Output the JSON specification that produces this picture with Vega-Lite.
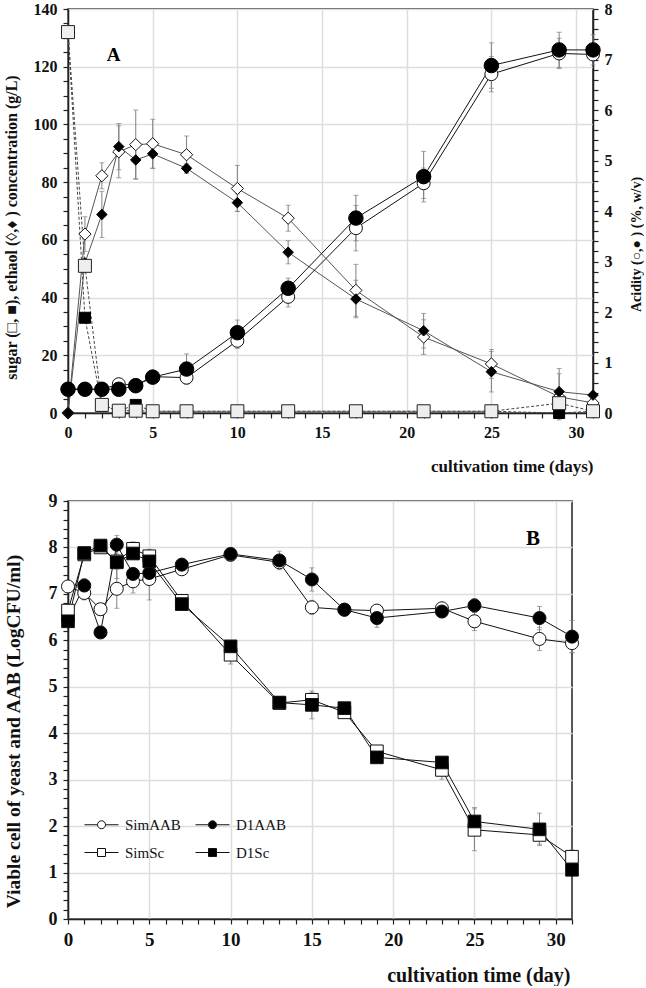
{
  "$schema": "https://vega.github.io/schema/vega-lite/v6.json",
  "padding": {"left": 2, "top": 0, "right": 0, "bottom": 0},
  "spacing": 16,
  "config": {
    "view": {"stroke": "#222", "strokeWidth": 1.5},
    "axis": {
      "labelFont": "Liberation Serif", "labelFontWeight": "bold", "labelFontSize": 16, "labelColor": "#111",
      "titleFont": "Liberation Serif", "titleFontWeight": "bold", "titleFontSize": 16, "titleColor": "#111",
      "domainColor": "#222", "domainWidth": 1.5, "tickColor": "#222", "tickWidth": 1.2, "tickSize": 5,
      "gridColor": "#dddddd", "gridWidth": 1.5, "labelOverlap": false, "labelFlush": false, "labelPadding": 6
    },
    "text": {"font": "Liberation Serif"}
  },
  "datasets": {
    "A": [
      {"t": 0, "s": "sugSim", "v": 132, "e": 0}, {"t": 1, "s": "sugSim", "v": 51, "e": 0}, {"t": 2, "s": "sugSim", "v": 2.8, "e": 0}, {"t": 3, "s": "sugSim", "v": 0.8, "e": 0}, {"t": 4, "s": "sugSim", "v": 0.8, "e": 0}, {"t": 5, "s": "sugSim", "v": 0.6, "e": 0}, {"t": 7, "s": "sugSim", "v": 0.6, "e": 0}, {"t": 10, "s": "sugSim", "v": 0.6, "e": 0}, {"t": 13, "s": "sugSim", "v": 0.6, "e": 0}, {"t": 17, "s": "sugSim", "v": 0.6, "e": 0}, {"t": 21, "s": "sugSim", "v": 0.6, "e": 0}, {"t": 25, "s": "sugSim", "v": 0.6, "e": 0}, {"t": 29, "s": "sugSim", "v": 3.4, "e": 0}, {"t": 31, "s": "sugSim", "v": 0.6, "e": 0},
      {"t": 0, "s": "sugD1", "v": 132, "e": 0}, {"t": 1, "s": "sugD1", "v": 33, "e": 0}, {"t": 2, "s": "sugD1", "v": 2.5, "e": 0}, {"t": 3, "s": "sugD1", "v": 0.8, "e": 0}, {"t": 4, "s": "sugD1", "v": 2.8, "e": 0}, {"t": 5, "s": "sugD1", "v": 0.6, "e": 0}, {"t": 7, "s": "sugD1", "v": 0.6, "e": 0}, {"t": 10, "s": "sugD1", "v": 0.6, "e": 0}, {"t": 13, "s": "sugD1", "v": 0.6, "e": 0}, {"t": 17, "s": "sugD1", "v": 0.6, "e": 0}, {"t": 21, "s": "sugD1", "v": 0.6, "e": 0}, {"t": 25, "s": "sugD1", "v": 0.6, "e": 0}, {"t": 29, "s": "sugD1", "v": 0, "e": 0}, {"t": 31, "s": "sugD1", "v": 0.6, "e": 0},
      {"t": 0, "s": "ethSim", "v": 0, "e": 0}, {"t": 1, "s": "ethSim", "v": 62, "e": 6}, {"t": 2, "s": "ethSim", "v": 82.2, "e": 4.5}, {"t": 3, "s": "ethSim", "v": 90.5, "e": 9}, {"t": 4, "s": "ethSim", "v": 93, "e": 12}, {"t": 5, "s": "ethSim", "v": 93.3, "e": 8.5}, {"t": 7, "s": "ethSim", "v": 89.5, "e": 6.5}, {"t": 10, "s": "ethSim", "v": 77.8, "e": 8}, {"t": 13, "s": "ethSim", "v": 67.5, "e": 4.5}, {"t": 17, "s": "ethSim", "v": 42.5, "e": 9}, {"t": 21, "s": "ethSim", "v": 26.3, "e": 6}, {"t": 25, "s": "ethSim", "v": 17, "e": 5}, {"t": 29, "s": "ethSim", "v": 5.6, "e": 8}, {"t": 31, "s": "ethSim", "v": 3.5, "e": 2},
      {"t": 0, "s": "ethD1", "v": 0, "e": 0}, {"t": 1, "s": "ethD1", "v": 52, "e": 0}, {"t": 2, "s": "ethD1", "v": 68.8, "e": 8}, {"t": 3, "s": "ethD1", "v": 92.3, "e": 8}, {"t": 4, "s": "ethD1", "v": 87.7, "e": 6.5}, {"t": 5, "s": "ethD1", "v": 89.8, "e": 5}, {"t": 7, "s": "ethD1", "v": 84.8, "e": 1.5}, {"t": 10, "s": "ethD1", "v": 72.9, "e": 3}, {"t": 13, "s": "ethD1", "v": 55.7, "e": 4}, {"t": 17, "s": "ethD1", "v": 39.5, "e": 6.5}, {"t": 21, "s": "ethD1", "v": 28.5, "e": 6}, {"t": 25, "s": "ethD1", "v": 14.3, "e": 7}, {"t": 29, "s": "ethD1", "v": 7.4, "e": 8}, {"t": 31, "s": "ethD1", "v": 6.2, "e": 1},
      {"t": 0, "s": "acSim", "v": 0.47, "e": 0}, {"t": 1, "s": "acSim", "v": 0.47, "e": 0}, {"t": 2, "s": "acSim", "v": 0.47, "e": 0}, {"t": 3, "s": "acSim", "v": 0.57, "e": 0.1}, {"t": 4, "s": "acSim", "v": 0.55, "e": 0}, {"t": 5, "s": "acSim", "v": 0.72, "e": 0}, {"t": 7, "s": "acSim", "v": 0.7, "e": 0.05}, {"t": 10, "s": "acSim", "v": 1.43, "e": 0.15}, {"t": 13, "s": "acSim", "v": 2.3, "e": 0.2}, {"t": 17, "s": "acSim", "v": 3.66, "e": 0.45}, {"t": 21, "s": "acSim", "v": 4.55, "e": 0.3}, {"t": 25, "s": "acSim", "v": 6.71, "e": 0.35}, {"t": 29, "s": "acSim", "v": 7.12, "e": 0.3}, {"t": 31, "s": "acSim", "v": 7.1, "e": 0.1},
      {"t": 0, "s": "acD1", "v": 0.47, "e": 0}, {"t": 1, "s": "acD1", "v": 0.47, "e": 0}, {"t": 2, "s": "acD1", "v": 0.47, "e": 0}, {"t": 3, "s": "acD1", "v": 0.47, "e": 0}, {"t": 4, "s": "acD1", "v": 0.54, "e": 0}, {"t": 5, "s": "acD1", "v": 0.71, "e": 0}, {"t": 7, "s": "acD1", "v": 0.87, "e": 0.3}, {"t": 10, "s": "acD1", "v": 1.59, "e": 0.25}, {"t": 13, "s": "acD1", "v": 2.47, "e": 0.2}, {"t": 17, "s": "acD1", "v": 3.86, "e": 0.45}, {"t": 21, "s": "acD1", "v": 4.68, "e": 0.5}, {"t": 25, "s": "acD1", "v": 6.88, "e": 0.45}, {"t": 29, "s": "acD1", "v": 7.19, "e": 0.35}, {"t": 31, "s": "acD1", "v": 7.19, "e": 0.3}
    ],
    "B": [
      {"t": 0, "s": "SimAAB", "v": 7.16, "e": 0}, {"t": 1, "s": "SimAAB", "v": 7.02, "e": 0.15}, {"t": 2, "s": "SimAAB", "v": 6.67, "e": 0.12}, {"t": 3, "s": "SimAAB", "v": 7.11, "e": 0.42}, {"t": 4, "s": "SimAAB", "v": 7.27, "e": 0.25}, {"t": 5, "s": "SimAAB", "v": 7.32, "e": 0.45}, {"t": 7, "s": "SimAAB", "v": 7.53, "e": 0.05}, {"t": 10, "s": "SimAAB", "v": 7.84, "e": 0.05}, {"t": 13, "s": "SimAAB", "v": 7.68, "e": 0.1}, {"t": 15, "s": "SimAAB", "v": 6.71, "e": 0.15}, {"t": 17, "s": "SimAAB", "v": 6.66, "e": 0.1}, {"t": 19, "s": "SimAAB", "v": 6.64, "e": 0.1}, {"t": 23, "s": "SimAAB", "v": 6.69, "e": 0.1}, {"t": 25, "s": "SimAAB", "v": 6.41, "e": 0.2}, {"t": 29, "s": "SimAAB", "v": 6.03, "e": 0.25}, {"t": 31, "s": "SimAAB", "v": 5.94, "e": 0.2},
      {"t": 0, "s": "D1AAB", "v": 6.45, "e": 0}, {"t": 1, "s": "D1AAB", "v": 7.18, "e": 0.15}, {"t": 2, "s": "D1AAB", "v": 6.17, "e": 0}, {"t": 3, "s": "D1AAB", "v": 8.06, "e": 0.2}, {"t": 4, "s": "D1AAB", "v": 7.43, "e": 0.1}, {"t": 5, "s": "D1AAB", "v": 7.45, "e": 0.1}, {"t": 7, "s": "D1AAB", "v": 7.63, "e": 0}, {"t": 10, "s": "D1AAB", "v": 7.86, "e": 0.05}, {"t": 13, "s": "D1AAB", "v": 7.72, "e": 0.2}, {"t": 15, "s": "D1AAB", "v": 7.31, "e": 0.25}, {"t": 17, "s": "D1AAB", "v": 6.66, "e": 0.1}, {"t": 19, "s": "D1AAB", "v": 6.48, "e": 0.2}, {"t": 23, "s": "D1AAB", "v": 6.62, "e": 0.1}, {"t": 25, "s": "D1AAB", "v": 6.75, "e": 0.15}, {"t": 29, "s": "D1AAB", "v": 6.48, "e": 0.25}, {"t": 31, "s": "D1AAB", "v": 6.08, "e": 0.35},
      {"t": 0, "s": "SimSc", "v": 6.64, "e": 0}, {"t": 1, "s": "SimSc", "v": 7.85, "e": 0}, {"t": 2, "s": "SimSc", "v": 8.0, "e": 0.1}, {"t": 3, "s": "SimSc", "v": 7.7, "e": 0}, {"t": 4, "s": "SimSc", "v": 7.97, "e": 0.15}, {"t": 5, "s": "SimSc", "v": 7.81, "e": 0.15}, {"t": 7, "s": "SimSc", "v": 6.85, "e": 0.1}, {"t": 10, "s": "SimSc", "v": 5.69, "e": 0.2}, {"t": 13, "s": "SimSc", "v": 4.65, "e": 0.05}, {"t": 15, "s": "SimSc", "v": 4.72, "e": 0.15}, {"t": 17, "s": "SimSc", "v": 4.45, "e": 0.1}, {"t": 19, "s": "SimSc", "v": 3.61, "e": 0.1}, {"t": 23, "s": "SimSc", "v": 3.21, "e": 0.2}, {"t": 25, "s": "SimSc", "v": 1.92, "e": 0.45}, {"t": 29, "s": "SimSc", "v": 1.81, "e": 0.2}, {"t": 31, "s": "SimSc", "v": 1.34, "e": 0.15},
      {"t": 0, "s": "D1Sc", "v": 6.41, "e": 0}, {"t": 1, "s": "D1Sc", "v": 7.88, "e": 0}, {"t": 2, "s": "D1Sc", "v": 8.04, "e": 0}, {"t": 3, "s": "D1Sc", "v": 7.68, "e": 0.35}, {"t": 4, "s": "D1Sc", "v": 7.87, "e": 0.1}, {"t": 5, "s": "D1Sc", "v": 7.7, "e": 0.15}, {"t": 7, "s": "D1Sc", "v": 6.78, "e": 0.1}, {"t": 10, "s": "D1Sc", "v": 5.87, "e": 0.1}, {"t": 13, "s": "D1Sc", "v": 4.66, "e": 0.05}, {"t": 15, "s": "D1Sc", "v": 4.61, "e": 0.3}, {"t": 17, "s": "D1Sc", "v": 4.54, "e": 0.1}, {"t": 19, "s": "D1Sc", "v": 3.48, "e": 0.1}, {"t": 23, "s": "D1Sc", "v": 3.37, "e": 0.1}, {"t": 25, "s": "D1Sc", "v": 2.1, "e": 0.3}, {"t": 29, "s": "D1Sc", "v": 1.93, "e": 0.35}, {"t": 31, "s": "D1Sc", "v": 1.06, "e": 0.1}
    ],
    "labA": [{"t": 2.7, "v": 124, "label": "A"}],
    "labB": [{"t": 28.6, "v": 8.19, "label": "B"}]
  },
  "vconcat": [
    {
      "width": 525,
      "height": 404,
      "resolve": {"scale": {"y": "independent"}},
      "encoding": {
        "x": {"field": "t", "type": "quantitative", "title": "cultivation time (days)", "scale": {"domain": [0, 31], "nice": false, "zero": false},
          "axis": {"title": "cultivation time (days)", "grid": true, "values": [0,1,2,3,4,5,6,7,8,9,10,11,12,13,14,15,16,17,18,19,20,21,22,23,24,25,26,27,28,29,30,31],
            "labelExpr": "datum.value % 5 === 0 ? datum.label : ''",
            "gridOpacity": {"condition": {"test": "datum.value % 5 === 0", "value": 1}, "value": 0},
            "titleAnchor": "end", "titlePadding": 18, "titleFontSize": 17}}
      },
      "layer": [
        {
          "data": {"name": "A"},
          "encoding": {
            "y": {"field": "v", "type": "quantitative", "title": "sugar (□, ■), ethaol (◊,♦ ) concentration (g/L)", "scale": {"domain": [0, 140], "nice": false},
              "axis": {"orient": "left", "grid": true, "title": "sugar (□, ■), ethaol (◊,♦ ) concentration (g/L)",
                "values": [0,5,10,15,20,25,30,35,40,45,50,55,60,65,70,75,80,85,90,95,100,105,110,115,120,125,130,135,140],
                "labelExpr": "datum.value % 20 === 0 ? datum.label : ''",
                "gridOpacity": {"condition": {"test": "datum.value % 20 === 0", "value": 1}, "value": 0},
                "titleX": -57, "titleY": 218, "titleAngle": 270, "titleBaseline": "middle", "titleFontSize": 16}}
          },
          "layer": [
            {"transform": [{"filter": "datum.e > 0 && (datum.s === 'ethSim' || datum.s === 'ethD1')"}],
              "mark": {"type": "errorbar", "ticks": true, "color": "#808080"}, "encoding": {"yError": {"field": "e"}}},
            {"transform": [{"filter": "datum.s === 'sugSim' || datum.s === 'sugD1'"}],
              "mark": {"type": "line", "color": "#444", "strokeWidth": 1, "strokeDash": [3, 2]}, "encoding": {"detail": {"field": "s"}}},
            {"transform": [{"filter": "datum.s === 'ethSim' || datum.s === 'ethD1'"}],
              "mark": {"type": "line", "color": "#555", "strokeWidth": 1}, "encoding": {"detail": {"field": "s"}}},
            {"transform": [{"filter": "datum.s === 'ethSim'"}],
              "mark": {"type": "point", "shape": "diamond", "filled": true, "fill": "white", "stroke": "#111", "strokeWidth": 1, "size": 150, "opacity": 1}},
            {"transform": [{"filter": "datum.s === 'ethD1'"}],
              "mark": {"type": "point", "shape": "diamond", "filled": true, "fill": "black", "stroke": "black", "strokeWidth": 1, "size": 110, "opacity": 1}},
            {"transform": [{"filter": "datum.s === 'sugD1'"}],
              "mark": {"type": "point", "shape": "square", "filled": true, "fill": "black", "stroke": "black", "strokeWidth": 1, "size": 121, "opacity": 1}},
            {"transform": [{"filter": "datum.s === 'sugSim'"}],
              "mark": {"type": "point", "shape": "square", "filled": true, "fill": "#eeeeee", "stroke": "#222", "strokeWidth": 1, "size": 169, "opacity": 1}},
            {"data": {"name": "labA"},
              "mark": {"type": "text", "font": "Liberation Serif", "fontWeight": "bold", "fontSize": 19, "color": "black"},
              "encoding": {"text": {"field": "label"}}}
          ]
        },
        {
          "data": {"name": "A"},
          "transform": [{"filter": "datum.s === 'acSim' || datum.s === 'acD1'"}],
          "encoding": {
            "y": {"field": "v", "type": "quantitative", "scale": {"domain": [0, 8], "nice": false},
              "axis": {"orient": "right", "title": "Acidity (○,● ) (%, w/v)",
                "values": [0,0.2,0.4,0.6,0.8,1,1.2,1.4,1.6,1.8,2,2.2,2.4,2.6,2.8,3,3.2,3.4,3.6,3.8,4,4.2,4.4,4.6,4.8,5,5.2,5.4,5.6,5.8,6,6.2,6.4,6.6,6.8,7,7.2,7.4,7.6,7.8,8],
                "labelExpr": "datum.value % 1 === 0 ? format(datum.value, 'd') : ''",
                "grid": false, "titleFontSize": 14,
                "titleX": 43, "titleY": 235, "titleAngle": 270, "titleBaseline": "middle"}}
          },
          "layer": [
            {"transform": [{"filter": "datum.e > 0"}],
              "mark": {"type": "errorbar", "ticks": true, "color": "#808080"}, "encoding": {"yError": {"field": "e"}}},
            {"mark": {"type": "line", "color": "#111", "strokeWidth": 1}, "encoding": {"detail": {"field": "s"}}},
            {"transform": [{"filter": "datum.s === 'acSim'"}],
              "mark": {"type": "point", "shape": "circle", "filled": true, "fill": "white", "stroke": "#111", "strokeWidth": 1, "size": 169, "opacity": 1}},
            {"transform": [{"filter": "datum.s === 'acD1'"}],
              "mark": {"type": "point", "shape": "circle", "filled": true, "fill": "black", "stroke": "black", "strokeWidth": 1, "size": 210, "opacity": 1}}
          ]
        }
      ]
    },
    {
      "width": 504,
      "height": 418,
      "encoding": {
        "x": {"field": "t", "type": "quantitative", "scale": {"domain": [0, 31], "nice": false, "zero": false},
          "axis": {"title": "cultivation time (day)", "values": [0,1,2,3,4,5,6,7,8,9,10,11,12,13,14,15,16,17,18,19,20,21,22,23,24,25,26,27,28,29,30,31],
            "labelExpr": "datum.value % 5 === 0 ? datum.label : ''", "labelFontSize": 19,
            "gridOpacity": {"condition": {"test": "datum.value % 5 === 0", "value": 1}, "value": 0},
            "titleX": 502, "titleY": 56, "titleAlign": "right", "titleBaseline": "middle", "titleFontSize": 20}},
        "y": {"field": "v", "type": "quantitative", "scale": {"domain": [0, 9], "nice": false},
          "axis": {"title": "Viable cell  of  yeast and AAB  (LogCFU/ml)", "labelFontSize": 18,
            "values": [0,0.2,0.4,0.6,0.8,1,1.2,1.4,1.6,1.8,2,2.2,2.4,2.6,2.8,3,3.2,3.4,3.6,3.8,4,4.2,4.4,4.6,4.8,5,5.2,5.4,5.6,5.8,6,6.2,6.4,6.6,6.8,7,7.2,7.4,7.6,7.8,8,8.2,8.4,8.6,8.8,9],
            "labelExpr": "datum.value % 1 === 0 ? format(datum.value, 'd') : ''",
            "gridOpacity": {"condition": {"test": "datum.value % 1 === 0", "value": 1}, "value": 0},
            "titleX": -55, "titleY": 230, "titleAngle": 270, "titleBaseline": "middle", "titleFontSize": 19.5}}
      },
      "layer": [
        {"data": {"name": "B"}, "transform": [{"filter": "datum.e > 0"}],
          "mark": {"type": "errorbar", "ticks": true, "color": "#808080"}, "encoding": {"yError": {"field": "e"}, "detail": {"field": "s"}}},
        {"data": {"name": "B"},
          "mark": {"type": "line", "color": "#111", "strokeWidth": 1}, "encoding": {"detail": {"field": "s"}}},
        {"data": {"name": "B"}, "transform": [{"filter": "datum.s === 'SimAAB'"}],
          "mark": {"type": "point", "shape": "circle", "filled": true, "fill": "white", "stroke": "#111", "strokeWidth": 1, "size": 170, "opacity": 1}},
        {"data": {"name": "B"}, "transform": [{"filter": "datum.s === 'D1AAB'"}],
          "mark": {"type": "point", "shape": "circle", "filled": true, "fill": "black", "stroke": "#111", "strokeWidth": 1, "size": 170, "opacity": 1}},
        {"data": {"name": "B"}, "transform": [{"filter": "datum.s === 'SimSc'"}],
          "mark": {"type": "point", "shape": "square", "filled": true, "fill": "white", "stroke": "#111", "strokeWidth": 1, "size": 160, "opacity": 1}},
        {"data": {"name": "B"}, "transform": [{"filter": "datum.s === 'D1Sc'"}],
          "mark": {"type": "point", "shape": "square", "filled": true, "fill": "black", "stroke": "#111", "strokeWidth": 1, "size": 160, "opacity": 1}},
        {"data": {"name": "B"},
          "mark": {"type": "point", "filled": true, "size": 64, "opacity": 0},
          "encoding": {
            "shape": {"field": "s", "type": "nominal",
              "scale": {"domain": ["SimAAB", "D1AAB", "SimSc", "D1Sc"], "range": ["M-4.25,0H-1M1,0H4.25M1,0A1,1 0 1,1 -1,0A1,1 0 1,1 1,0", "M-4.25,0H-1M1,0H4.25M1,0A1,1 0 1,1 -1,0A1,1 0 1,1 1,0", "M-4.25,0H-1M1,0H4.25M-1,-1H1V1H-1Z", "M-4.25,0H-1M1,0H4.25M-1,-1H1V1H-1Z"]},
              "legend": {"orient": "none", "legendX": 26, "legendY": 808, "direction": "horizontal", "columns": 2, "title": null,
                "symbolSize": 64, "symbolStrokeWidth": 1, "symbolOpacity": 1,
                "labelFont": "Liberation Serif", "labelFontSize": 15, "labelFontWeight": "normal", "labelColor": "#111",
                "labelOffset": 16, "rowPadding": 12, "columnPadding": 12}},
            "fill": {"field": "s", "type": "nominal",
              "scale": {"domain": ["SimAAB", "D1AAB", "SimSc", "D1Sc"], "range": ["white", "black", "white", "black"]},
              "legend": {"orient": "none", "legendX": 26, "legendY": 808, "direction": "horizontal", "columns": 2, "title": null,
                "symbolSize": 64, "symbolStrokeWidth": 1, "symbolOpacity": 1,
                "labelFont": "Liberation Serif", "labelFontSize": 15, "labelFontWeight": "normal", "labelColor": "#111",
                "labelOffset": 16, "rowPadding": 12, "columnPadding": 12}},
            "stroke": {"field": "s", "type": "nominal",
              "scale": {"domain": ["SimAAB", "D1AAB", "SimSc", "D1Sc"], "range": ["#111", "#111", "#111", "#111"]},
              "legend": {"orient": "none", "legendX": 26, "legendY": 808, "direction": "horizontal", "columns": 2, "title": null,
                "symbolSize": 64, "symbolStrokeWidth": 1, "symbolOpacity": 1,
                "labelFont": "Liberation Serif", "labelFontSize": 15, "labelFontWeight": "normal", "labelColor": "#111",
                "labelOffset": 16, "rowPadding": 12, "columnPadding": 12}}
          }},
        {"data": {"name": "labB"},
          "mark": {"type": "text", "font": "Liberation Serif", "fontWeight": "bold", "fontSize": 21, "color": "black"},
          "encoding": {"text": {"field": "label"}}}
      ]
    }
  ]
}
